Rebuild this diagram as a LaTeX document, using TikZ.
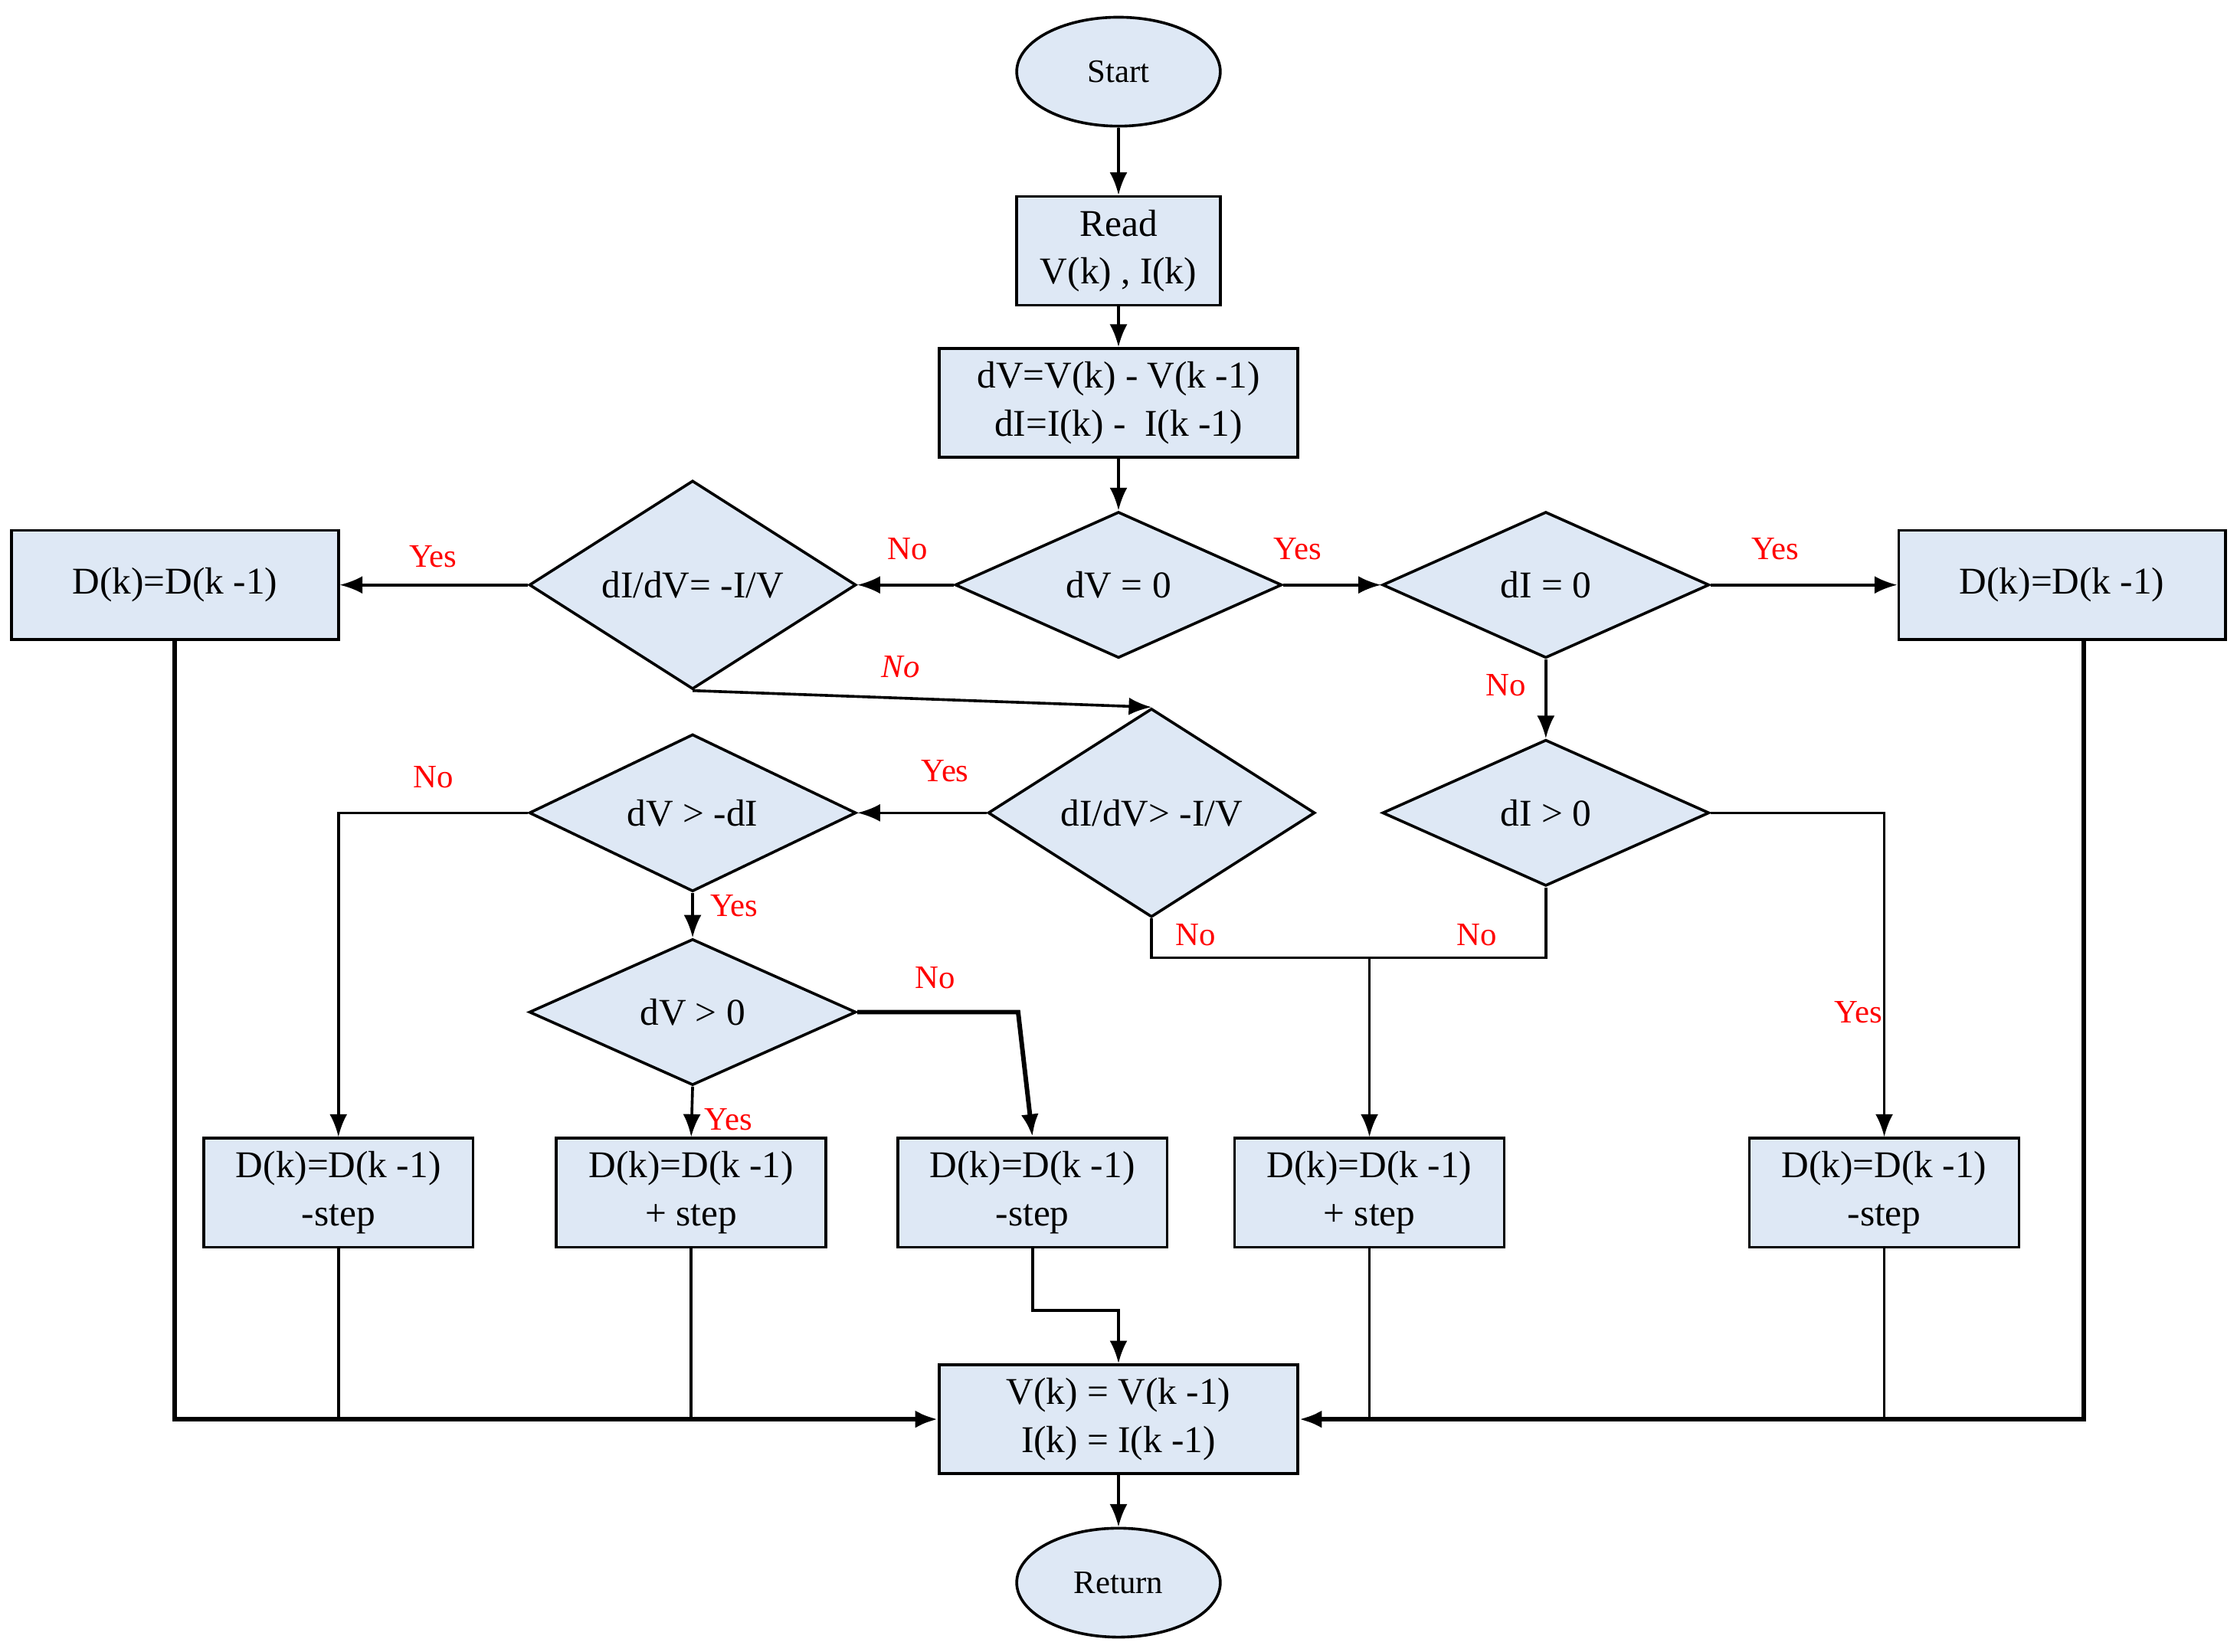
\documentclass[tikz,border=0pt]{standalone}
\usepackage{fontspec}
\setmainfont{Liberation Serif}
\usetikzlibrary{shapes.geometric,arrows.meta}
\definecolor{boxfill}{RGB}{222,232,245}
\begin{document}
\begin{tikzpicture}[x=0.02cm,y=-0.02cm,
  line width=1.1pt,
  >={Latex[length=9pt,width=7pt]},
  box/.style={draw,fill=boxfill,minimum width=#1,minimum height=1.52cm,inner sep=1pt,align=center,font=\fontsize{15}{19}\selectfont},
  box/.default=4.56cm,
  dia/.style={draw,fill=boxfill,diamond,minimum width=4.56cm,minimum height=2.04cm,inner sep=0pt,font=\fontsize{15}{18}\selectfont},
  ell/.style={draw,fill=boxfill,ellipse,minimum width=2.84cm,minimum height=1.52cm,font=\fontsize{13}{16}\selectfont},
  lab/.style={text=red,font=\fontsize{13}{16}\selectfont},
  thk/.style={line width=1.8pt}]
\useasboundingbox (0,0) rectangle (1560,1152);
\node[ell] (start) at (780,50) {Start};
\node[box=2.84cm] (read) at (780,175) {Read\\V(k) , I(k)};
\node[box=5cm] (dv) at (780,281) {dV=V(k) - V(k -1)\\dI=I(k) -\ \ I(k -1)};
\node[dia] (dv0) at (780,408) {dV = 0};
\node[dia] (didv) at (483,408) {dI/dV= -I/V};
\node[dia] (di0) at (1078,408) {dI = 0};
\node[box] (ld) at (122,408) {D(k)=D(k -1)};
\node[box] (rd) at (1438,408) {D(k)=D(k -1)};
\node[dia] (didv2) at (803,567) {dI/dV> -I/V};
\node[dia] (dvdi) at (483,567) {dV > -dI};
\node[dia] (digt) at (1078,567) {dI > 0};
\node[dia] (dvgt) at (483,706) {dV > 0};
\node[box=3.76cm] (b1) at (236,832) {D(k)=D(k -1)\\-step};
\node[box=3.76cm] (b2) at (482,832) {D(k)=D(k -1)\\+ step};
\node[box=3.76cm] (b3) at (720,832) {D(k)=D(k -1)\\-step};
\node[box=3.76cm] (b4) at (955,832) {D(k)=D(k -1)\\+ step};
\node[box=3.76cm] (b5) at (1314,832) {D(k)=D(k -1)\\-step};
\node[box=5cm] (vk) at (780,990) {V(k) = V(k -1)\\I(k) = I(k -1)};
\node[ell] (ret) at (780,1104) {Return};
\coordinate (j1) at (236,567);
\coordinate (j2) at (710,706);
\coordinate (j3) at (803,668);
\coordinate (j4) at (955,668);
\coordinate (j5) at (1078,668);
\coordinate (j6) at (1314,567);
\coordinate (j7) at (122,990);
\coordinate (j8) at (1453,990);
\coordinate (j9) at (720,914);
\coordinate (j10) at (780,914);
\node[lab] (l1) at (633,383) {No};
\node[lab] (l2) at (302,388) {Yes};
\node[lab,font=\fontsize{13}{16}\itshape] (l3) at (628,465) {No};
\node[lab] (l4) at (905,383) {Yes};
\node[lab] (l5) at (1238,383) {Yes};
\node[lab] (l6) at (1050,478) {No};
\node[lab] (l7) at (659,538) {Yes};
\node[lab] (l8) at (302,542) {No};
\node[lab] (l9) at (512,632) {Yes};
\node[lab] (l10) at (508,781) {Yes};
\node[lab] (l11) at (652,682) {No};
\node[lab] (l12) at (834,652) {No};
\node[lab] (l13) at (1030,652) {No};
\node[lab] (l14) at (1296,706) {Yes};
\draw[->] (start) -- (read);
\draw[->] (read) -- (dv);
\draw[->] (dv) -- (dv0);
\draw[->] (dv0.west) -- (didv.east);
\draw[->] (didv.west) -- (ld.east);
\draw[->] (didv.south) -- (didv2.north);
\draw[->] (dv0.east) -- (di0.west);
\draw[->] (di0.east) -- (rd.west);
\draw[->] (di0.south) -- (digt.north);
\draw[->] (didv2.west) -- (dvdi.east);
\draw[->] (dvdi.west) -- (j1) -- (b1.north);
\draw[->] (dvdi.south) -- (dvgt.north);
\draw[->] (dvgt.south) -- (b2.north);
\draw[->,thk] (dvgt.east) -- (j2) -- (b3.north);
\draw (didv2.south) -- (j3) -- (j4);
\draw (digt.south) -- (j5) -- (j4);
\draw[->] (j4) -- (b4.north);
\draw[->] (digt.east) -- (j6) -- (b5.north);
\draw[->,thk] (ld.south -| j7) -- (j7) -- (vk.west);
\draw[->,thk] (rd.south -| j8) -- (j8) -- (vk.west -| vk.east);
\draw (b1.south) -- (b1.south |- vk.west);
\draw (b2.south) -- (b2.south |- vk.west);
\draw (b4.south) -- (b4.south |- vk.west);
\draw (b5.south) -- (b5.south |- vk.west);
\draw[->] (b3.south) -- (j9) -- (j10) -- (vk.north);
\draw[->] (vk) -- (ret);
\end{tikzpicture}
\end{document}
